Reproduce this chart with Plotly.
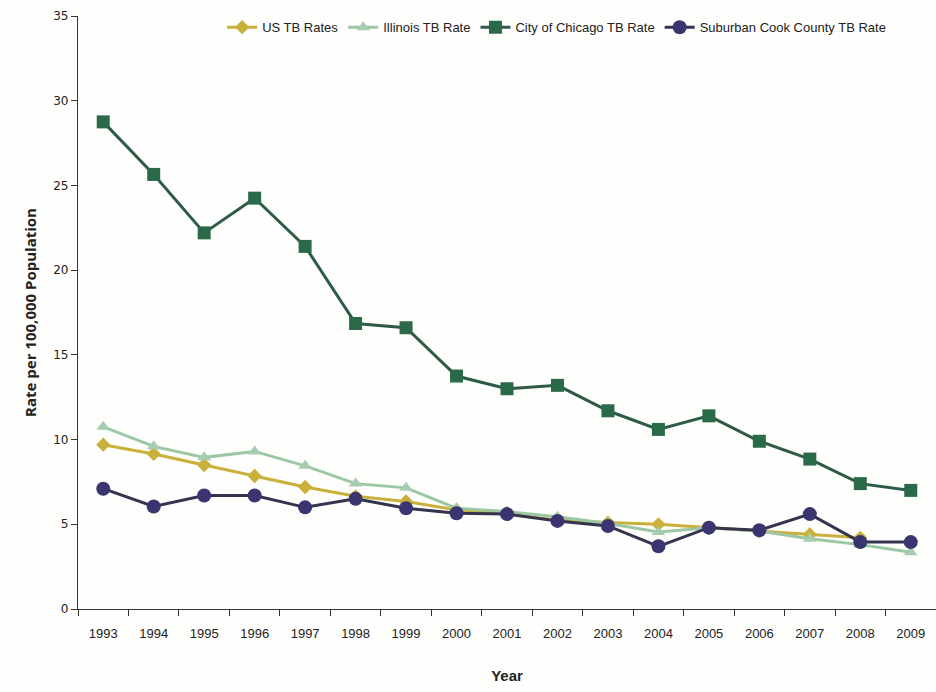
import plotly.graph_objects as go

years = ["1993", "1994", "1995", "1996", "1997", "1998", "1999", "2000", "2001",
         "2002", "2003", "2004", "2005", "2006", "2007", "2008", "2009"]

us_rates = [9.7, 9.15, 8.5, 7.85, 7.2, 6.65, 6.35, 5.85, 5.6, 5.25, 5.1, 5.0, 4.8, 4.6, 4.4, 4.2, None]
illinois_rates = [10.75, 9.6, 8.95, 9.3, 8.45, 7.4, 7.15, 5.95, 5.75, 5.45, 5.05, 4.55, 4.8, 4.6, 4.15, 3.8, 3.35]
chicago_rates = [28.75, 25.65, 22.2, 24.25, 21.4, 16.85, 16.6, 13.75, 13.0, 13.2, 11.7, 10.6, 11.4, 9.9, 8.85, 7.4, 7.0]
suburban_rates = [7.1, 6.05, 6.7, 6.7, 6.0, 6.5, 5.95, 5.65, 5.6, 5.2, 4.9, 3.7, 4.8, 4.65, 5.6, 3.95, 3.95]

series = [
    ("US TB Rates", us_rates, "#C8B03A", "#C8B03A", "diamond", 11),
    ("Illinois TB Rate", illinois_rates, "#9CC7A4", "#A6CDB0", "triangle-up", 12),
    ("City of Chicago TB Rate", chicago_rates, "#2E5A48", "#2B6A48", "square", 13),
    ("Suburban Cook County TB Rate", suburban_rates, "#35344F", "#3A3470", "circle", 14),
]

fig = go.Figure()
for name, vals, lc, mc, sym, sz in series:
    fig.add_trace(go.Scatter(
        x=years, y=vals, name=name, mode="lines+markers",
        line=dict(color=lc, width=3),
        marker=dict(color=mc, symbol=sym, size=sz, line=dict(width=0)),
    ))

narrow = "Liberation Sans Narrow, Arial Narrow, sans-serif"

fig.update_layout(
    width=936, height=692,
    margin=dict(l=78, r=0, t=16, b=83),
    paper_bgcolor="#FEFEFC", plot_bgcolor="#FEFEFC",
    showlegend=True,
    legend=dict(orientation="h", x=0.168, y=0.981, xanchor="left", yanchor="middle",
                font=dict(family=narrow, size=13, color="#222"),
                bgcolor="rgba(0,0,0,0)", itemwidth=30, tracegroupgap=0),
    xaxis=dict(
        type="category", tickson="boundaries", ticks="outside", ticklen=6,
        tickcolor="#333", showline=True, linecolor="#333", linewidth=1.2,
        showgrid=False, zeroline=False, range=[-0.5, 16.5], automargin=False,
        ticklabelstandoff=12,
        tickfont=dict(family=narrow, size=13, color="#222"),
        title=dict(text="<b>Year</b>", font=dict(family=narrow, size=15, color="#222"), standoff=30),
    ),
    yaxis=dict(
        range=[0, 35], dtick=5, ticks="outside", ticklen=6, tickcolor="#333",
        showline=True, linecolor="#333", linewidth=1.2, showgrid=False, zeroline=False,
        automargin=False,
        tickfont=dict(family="DejaVu Sans, Verdana, sans-serif", size=12, color="#222"),
        title=dict(text="<b>Rate per 100,000 Population</b>", font=dict(family="Open Sans, sans-serif", size=15, color="#222"), standoff=12),
    ),
)

fig.write_html("out.html", config={"displayModeBar": False},
               post_script="document.body.style.margin='0';document.body.style.overflow='hidden';")
